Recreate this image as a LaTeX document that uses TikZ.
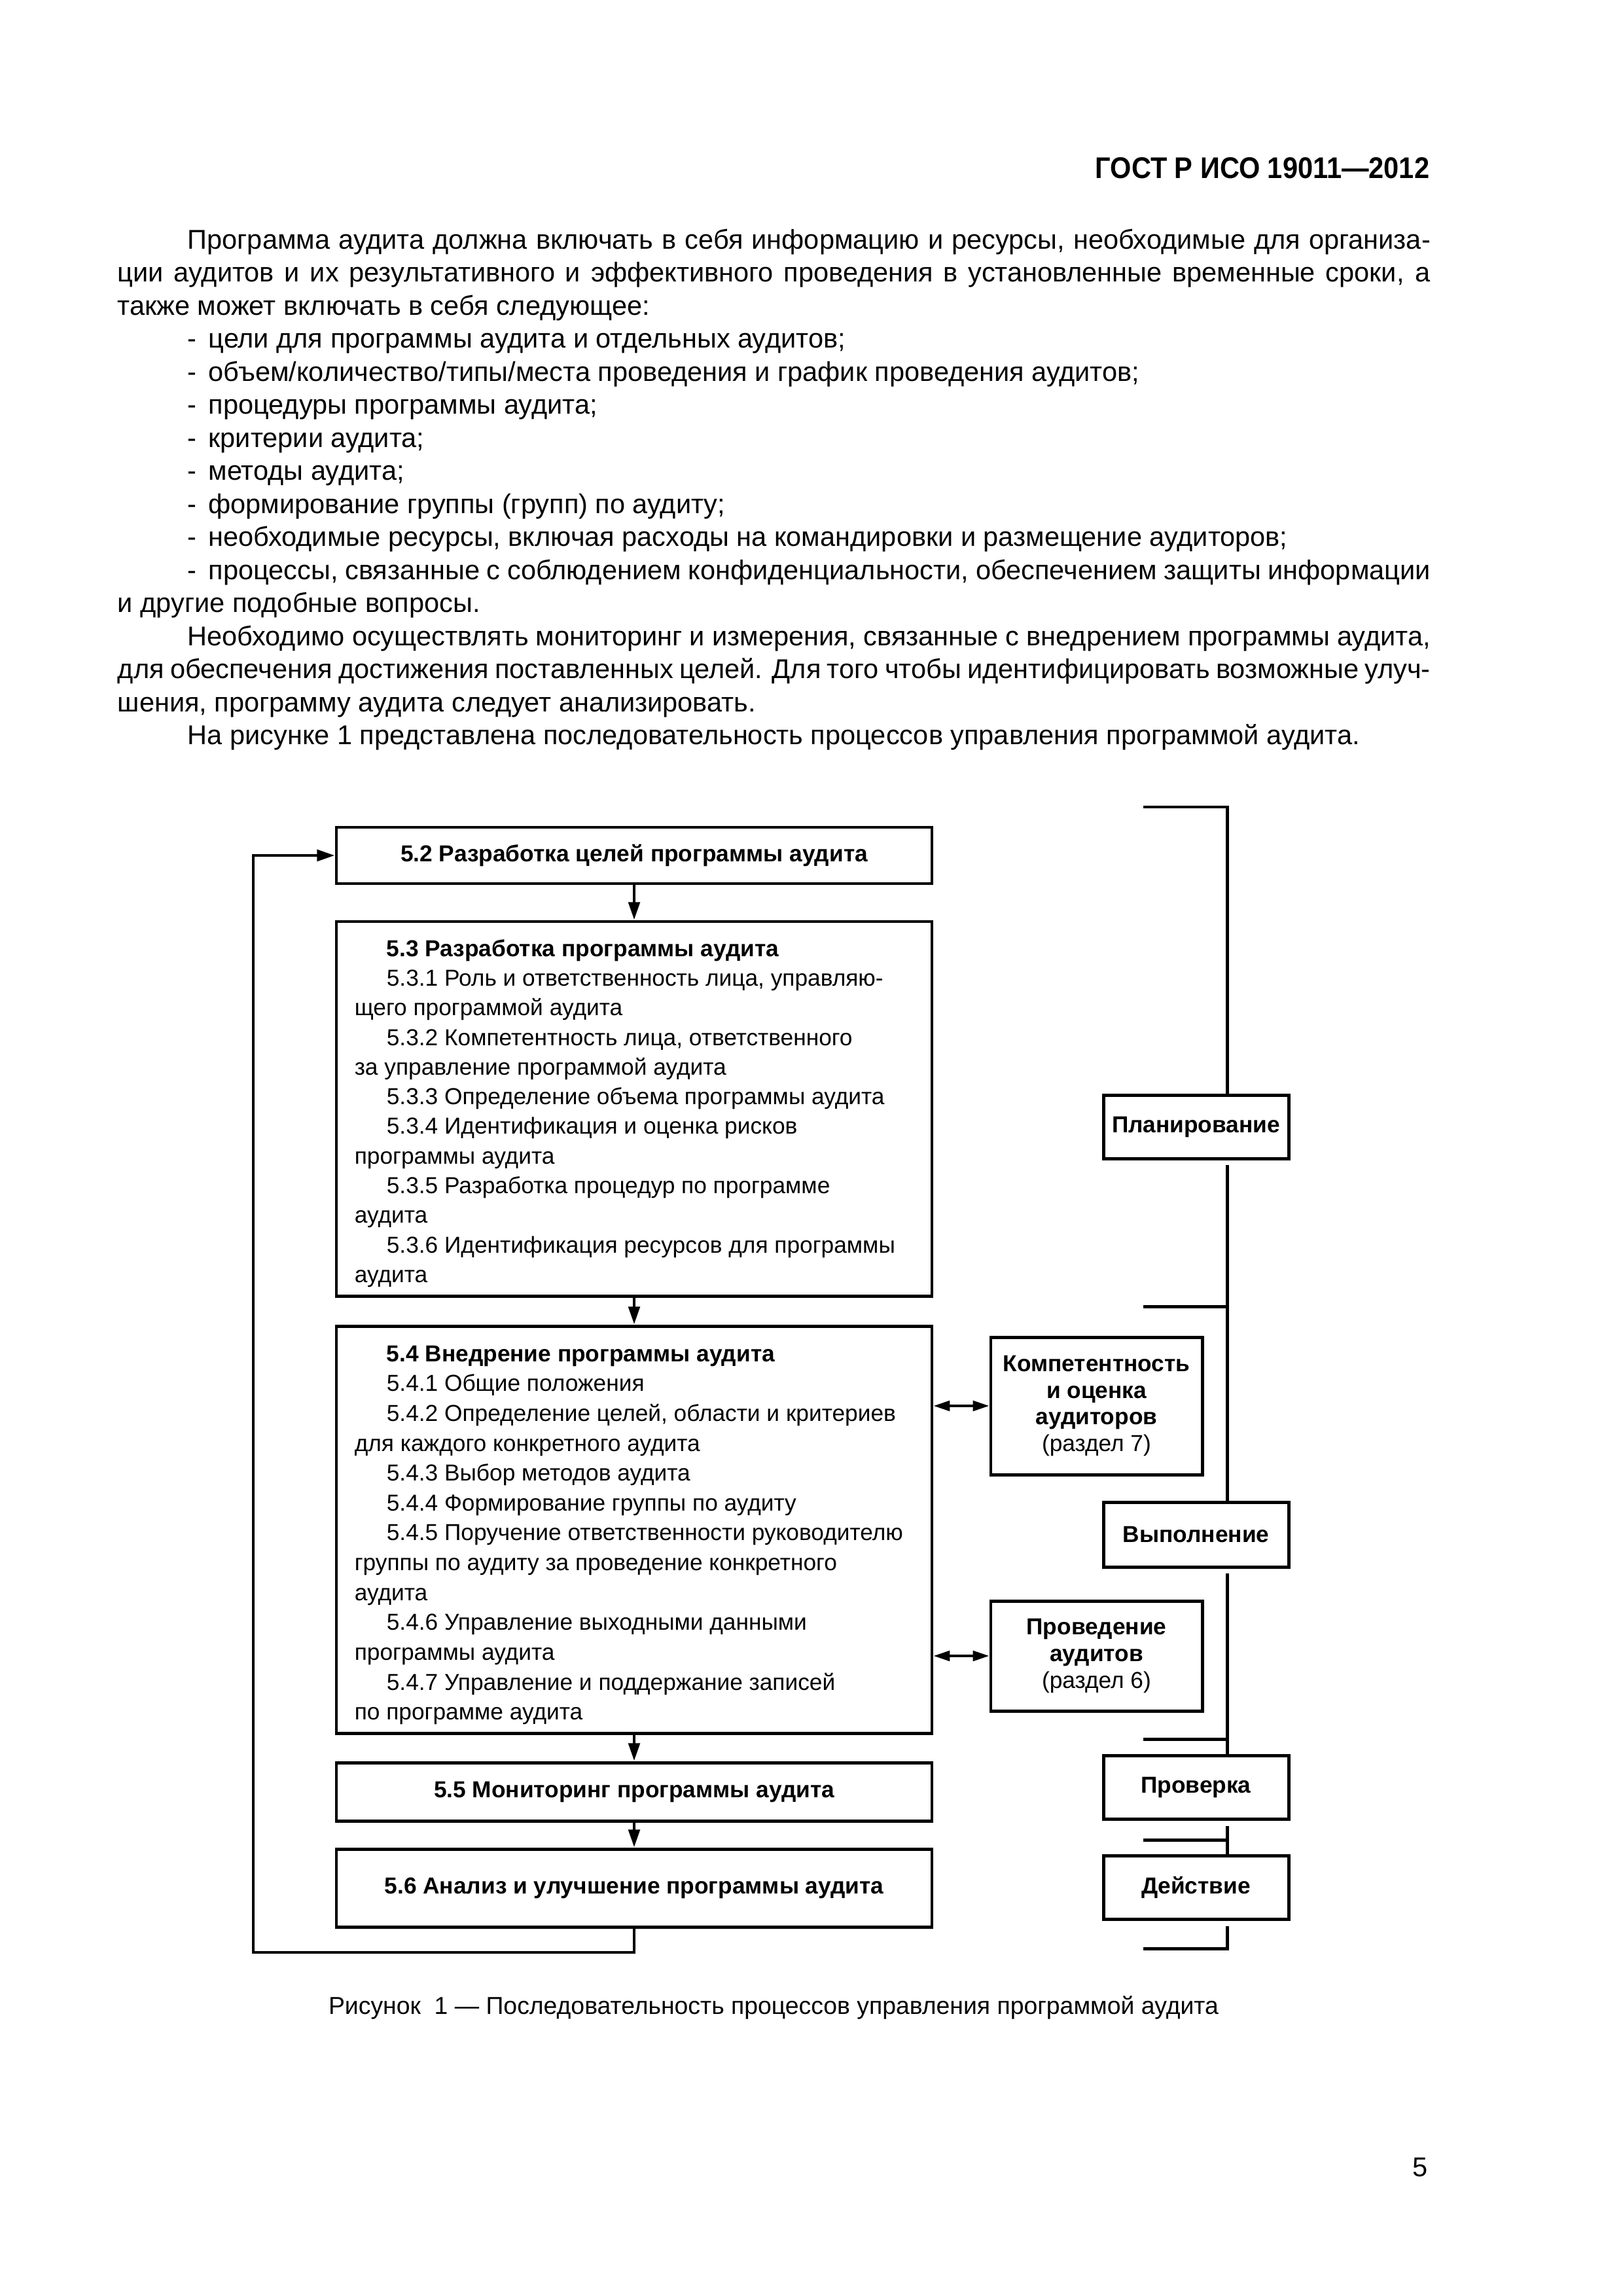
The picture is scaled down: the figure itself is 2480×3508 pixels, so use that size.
\documentclass[tikz,border=0pt]{standalone}
\usepackage{fontspec}
\setmainfont{Liberation Sans}
\usetikzlibrary{arrows.meta,fit}
\newlength\px
\setlength\px{0.0846774mm}
\newcommand\ind{\hspace*{107\px}}
\newcommand\bul{\hspace*{107\px}-\hspace{18\px}}
\newcommand\subi{\hspace*{49\px}}
\begin{document}
\begin{tikzpicture}[x=0.0846774mm,y=-0.0846774mm,
  box/.style={draw,line width=0.42mm,inner sep=0pt},
  title/.style={inner sep=0pt,font=\fontsize{8.5}{10.95}\selectfont\bfseries},
  side/.style={inner sep=0pt,align=center,font=\fontsize{8.5}{9.76}\selectfont\bfseries},
  arr/.style={line width=0.4mm,-{Triangle[length=2.3mm,width=1.45mm]}},
  darr/.style={line width=0.34mm,{Triangle[length=2.1mm,width=1.3mm]}-{Triangle[length=2.1mm,width=1.3mm]}},
  brk/.style={line width=0.42mm},
  txt/.style={inner sep=0pt}]
\useasboundingbox (0,0) rectangle (2480,3508);

% header
\node[txt,anchor=base east,font=\fontsize{11}{13}\selectfont\bfseries] (hdr) at (2185,272) {\scalebox{0.91}[1]{ГОСТ Р ИСО 19011—2012}};

% body text
\node[txt,anchor=base west] (body) at (179,380) {\parbox[t]{2006\px}{\fontsize{10}{12.17}\selectfont
\ind\makebox[1899\px][s]{Программа аудита должна включать в себя информацию и ресурсы, необходимые для организа-}\\
\makebox[2006\px][s]{ции аудитов и их результативного и эффективного проведения в установленные временные сроки, а}\\
\mbox{также может включать в себя следующее:}\\
\bul\mbox{цели для программы аудита и отдельных аудитов;}\\
\bul\mbox{объем/количество/типы/места проведения и график проведения аудитов;}\\
\bul\mbox{процедуры программы аудита;}\\
\bul\mbox{критерии аудита;}\\
\bul\mbox{методы аудита;}\\
\bul\mbox{формирование группы (групп) по аудиту;}\\
\bul\mbox{необходимые ресурсы, включая расходы на командировки и размещение аудиторов;}\\
\ind\makebox[1899\px][s]{-\hspace{18\px}процессы, связанные с соблюдением конфиденциальности, обеспечением защиты информации}\\
\mbox{и другие подобные вопросы.}\\
\ind\makebox[1899\px][s]{Необходимо осуществлять мониторинг и измерения, связанные с внедрением программы аудита,}\\
\makebox[2006\px][s]{для обеспечения достижения поставленных целей. Для того чтобы идентифицировать возможные улуч-}\\
\mbox{шения, программу аудита следует анализировать.}\\
\ind\mbox{На рисунке 1 представлена последовательность процессов управления программой аудита.}}};

% main boxes
\node[box,fit={(514,1264)(1424,1350)}] (b52) {};
\node[box,fit={(514,1408)(1424,1980)}] (b53) {};
\node[box,fit={(514,2026)(1424,2648)}] (b54) {};
\node[box,fit={(514,2693)(1424,2782)}] (b55) {};
\node[box,fit={(514,2825)(1424,2944)}] (b56) {};
\node[title] (l52) at (b52.center) {5.2 Разработка целей программы аудита};
\node[title] (l55) at (b55.center) {5.5 Мониторинг программы аудита};
\node[title] (l56) at (b56.center) {5.6 Анализ и улучшение программы аудита};

\node[txt,anchor=base west] (t53) at (541,1461) {\parbox[t]{1500\px}{\raggedright\fontsize{8.5}{10.92}\selectfont
\subi\textbf{5.3 Разработка программы аудита}\\
\subi 5.3.1 Роль и ответственность лица, управляю-\\
щего программой аудита\\
\subi 5.3.2 Компетентность лица, ответственного\\
за управление программой аудита\\
\subi 5.3.3 Определение объема программы аудита\\
\subi 5.3.4 Идентификация и оценка рисков\\
программы аудита\\
\subi 5.3.5 Разработка процедур по программе\\
аудита\\
\subi 5.3.6 Идентификация ресурсов для программы\\
аудита}};

\node[txt,anchor=base west] (t54) at (541,2080) {\parbox[t]{1500\px}{\raggedright\fontsize{8.5}{11.0}\selectfont
\subi\textbf{5.4 Внедрение программы аудита}\\
\subi 5.4.1 Общие положения\\
\subi 5.4.2 Определение целей, области и критериев\\
для каждого конкретного аудита\\
\subi 5.4.3 Выбор методов аудита\\
\subi 5.4.4 Формирование группы по аудиту\\
\subi 5.4.5 Поручение ответственности руководителю\\
группы по аудиту за проведение конкретного\\
аудита\\
\subi 5.4.6 Управление выходными данными\\
программы аудита\\
\subi 5.4.7 Управление и поддержание записей\\
по программе аудита}};

% side boxes
\node[box,fit={(1514,2043)(1837,2253)}] (kb) {};
\node[box,fit={(1514,2446)(1837,2614)}] (pb) {};
\node[side] (lkb) at (kb.center) {Компетентность\\и оценка\\аудиторов\\\mdseries(раздел 7)};
\node[side] (lpb) at (pb.center) {Проведение\\аудитов\\\mdseries(раздел 6)};

% PDCA labels
\node[box,fit={(1686,1673)(1969,1770)}] (plan) {};
\node[box,fit={(1686,2295)(1969,2394)}] (vyp) {};
\node[box,fit={(1686,2682)(1969,2779)}] (prov) {};
\node[box,fit={(1686,2835)(1969,2932)}] (dey) {};
\node[title] (lplan) at (plan.center) {Планирование};
\node[title] (lvyp) at (vyp.center) {Выполнение};
\node[title] (lprov) at (prov.center) {Проверка};
\node[title] (ldey) at (dey.center) {Действие};

% flow arrows
\draw[arr] (b52) -- (b53);
\draw[arr] (b53) -- (b54);
\draw[arr] (b54) -- (b55);
\draw[arr] (b55) -- (b56);
\coordinate (fbl) at (387,2983);
\draw[arr] (b56.south) |- (fbl) |- (b52.west);
\draw[darr] (kb.west -| b54.east) -- (kb.west);
\draw[darr] (pb.west -| b54.east) -- (pb.west);

% bracket
\coordinate (bx) at (1875,0);
\coordinate (tk1) at (1747,1233);
\coordinate (tk2) at (1747,1996);
\coordinate (tk3) at (1747,2657);
\coordinate (tk4) at (1747,2811);
\coordinate (tk5) at (1747,2977);
\coordinate (g1) at (1875,1780);
\coordinate (g2) at (1875,2404);
\coordinate (g3) at (1875,2790);
\coordinate (g4) at (1875,2943);
\draw[brk] (tk1) -| (bx |- plan.north);
\draw[brk] (g1) -- (bx |- vyp.north);
\draw[brk] (tk2) -- (tk2 -| bx);
\draw[brk] (g2) -- (bx |- prov.north);
\draw[brk] (tk3) -- (tk3 -| bx);
\draw[brk] (g3) -- (bx |- dey.north);
\draw[brk] (tk4) -- (tk4 -| bx);
\draw[brk] (g4) |- (tk5);

% caption and page number
\node[txt,anchor=base,font=\fontsize{9}{11}\selectfont] (cap) at (1182,3077) {Рисунок\ \ 1 — Последовательность процессов управления программой аудита};
\node[txt,anchor=base east,font=\fontsize{10}{12}\selectfont] (pg) at (2182,3325) {5};
\end{tikzpicture}
\end{document}
